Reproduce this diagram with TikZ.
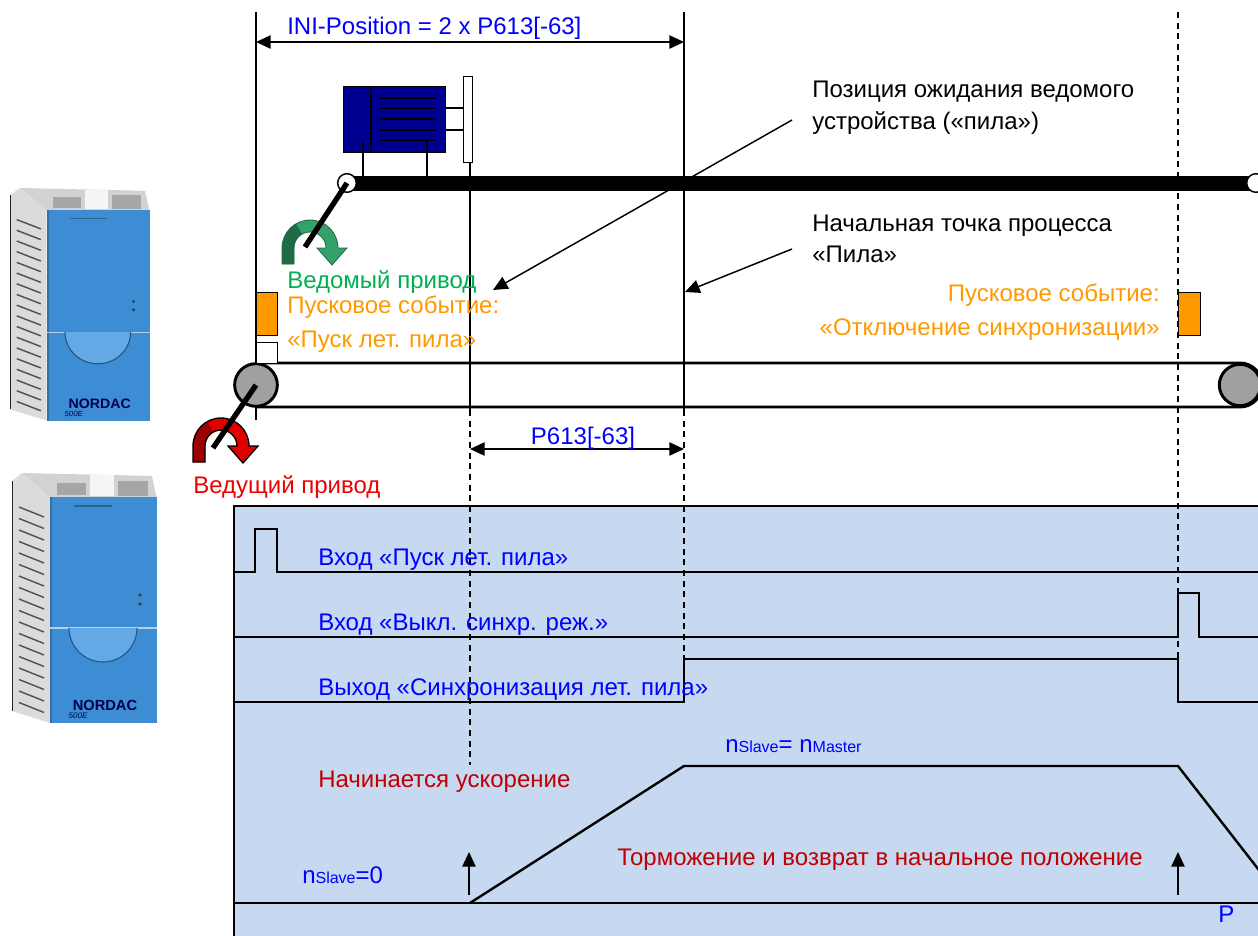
\documentclass[tikz,border=0pt]{standalone}
\usepackage{fontspec}
\setmainfont{Liberation Sans}
\usetikzlibrary{arrows.meta}
\definecolor{txtblue}{HTML}{0000FF}
\definecolor{txtgreen}{HTML}{00B050}
\definecolor{txtorange}{HTML}{FF9900}
\definecolor{txtred}{HTML}{EE0000}
\definecolor{darkred}{HTML}{C00000}
\definecolor{panelblue}{HTML}{C6D9F1}
\definecolor{motorblue}{HTML}{000090}
\definecolor{frontblue}{HTML}{3C8DD3}
\definecolor{cutblue}{HTML}{62A9E6}
\definecolor{rollgray}{HTML}{A0A0A0}
\definecolor{eventorange}{HTML}{FF9900}
\definecolor{arrgreen}{HTML}{34A06A}
\definecolor{arrgreendk}{HTML}{1F6B45}
\definecolor{arrred}{HTML}{E00000}
\newcommand\rotarrowpath{(-28,16) -- (-28,0) arc[start angle=180,end angle=360,radius=28] -- (37,0) -- (22,17) -- (7,0) -- (16,0) arc[start angle=360,end angle=180,radius=16] -- (-16,16) -- cycle}
\newcommand\nordacbody{%
  \fill[gray!35] (10,0) -- (140,3) -- (145,27) -- (38,24) -- cycle;
  \fill[gray!70] (45,10) rectangle (74,22);
  \fill[white!92!gray] (78,2) rectangle (102,23);
  \fill[gray!70] (106,8) rectangle (136,23);
  \fill[gray!28] (0,8) -- (10,0) -- (38,24) -- (38,250) -- (0,238) -- cycle;
  \draw[gray!30!black] (0,8) -- (0,238);
  \foreach \k in {0,...,17} \draw[gray!65!black, line width=1.1pt] (7,34+11.5*\k) -- (32,44+11.5*\k);
  \fill[frontblue] (38,24) rectangle (145,250);
  \fill[frontblue!80!black] (38,24) rectangle (40,250);
  \draw[white!60!frontblue, line width=0.8pt] (38,155) -- (145,155);
  \fill[cutblue] (57,155) arc[start angle=180,end angle=0,radius=34] -- cycle;
  \draw[frontblue!60!black, line width=0.8pt] (57,155) arc[start angle=180,end angle=0,radius=34];
  \draw[frontblue!70!black, line width=1pt] (62,33) -- (100,33);
  \fill[black!75] (128,122) circle[radius=1.8];
  \fill[black!75] (128,131) circle[radius=1.8];
}
\begin{document}
\begin{tikzpicture}[x=0.75pt,y=-0.75pt,
  lbl/.style={font=\fontsize{18}{20}\selectfont, inner sep=0pt, anchor=base west},
  lblr/.style={font=\fontsize{18}{20}\selectfont, inner sep=0pt, anchor=base east},
  thinl/.style={line width=1.1pt},
  dashl/.style={line width=1.1pt, dash pattern=on 4.5pt off 3.5pt},
  dimarrow/.style={line width=1.1pt, {Triangle[length=11pt,width=10pt]}-{Triangle[length=11pt,width=10pt]}},
  callout/.style={line width=1.1pt, -{Triangle[length=11pt,width=10pt]}},
  sig/.style={line width=1.8pt, line join=miter},
  belt/.style={line width=2.2pt},
  eventbox/.style={fill=eventorange, draw=black, line width=1.1pt}]
\useasboundingbox (0,0) rectangle (1258,936);

% ---------- frequency inverters ----------
\begin{scope}[shift={(10,188)}, xscale=0.965, yscale=0.93, transform shape]
  \nordacbody
  \node[font=\bfseries\fontsize{11}{11}\selectfont, text=black!70!blue] (nd1) at (93,232) {NORDAC};
  \node[font=\itshape\fontsize{6}{6}\selectfont, text=black!70!blue] (nd1s) at (66,243) {500E};
\end{scope}
\begin{scope}[shift={(12,473)}]
  \nordacbody
  \node[font=\bfseries\fontsize{11}{11}\selectfont, text=black!70!blue] (nd2) at (93,232) {NORDAC};
  \node[font=\itshape\fontsize{6}{6}\selectfont, text=black!70!blue] (nd2s) at (66,243) {500E};
\end{scope}

% ---------- bottom signal panel ----------
\fill[panelblue] (234,506) rectangle (1258,936);
\draw[sig] (234,936) -- (234,506) -- (1258,506);

% ---------- vertical reference lines ----------
\coordinate (vA1) at (256,12);  \coordinate (vA2) at (256,420);
\coordinate (vB1) at (684,12);  \coordinate (vB2) at (684,410); \coordinate (vB3) at (684,659);
\coordinate (vC1) at (470,162); \coordinate (vC2) at (470,410); \coordinate (vC3) at (470,765);
\coordinate (vD1) at (1178,12); \coordinate (vD2) at (1178,659);
\draw[thinl] (vA1) -- (vA2);
\draw[thinl] (vB1) -- (vB2);
\draw[dashl] (vB2) -- (vB3);
\draw[thinl] (vC1) -- (vC2);
\draw[dashl] (vC2) -- (vC3);
\draw[dashl] (vD1) -- (vD2);

% ---------- dimensions ----------
\coordinate (dA) at (256,42); \coordinate (dB) at (684,42);
\draw[dimarrow] (dA) -- (dB);
\node[lbl, text=txtblue] (ini) at (287,34) {INI-Position = 2 x P613[-63]};
\coordinate (dC) at (470,449); \coordinate (dD) at (684,449);
\draw[dimarrow] (dC) -- (dD);
\node[font=\fontsize{18}{20}\selectfont, inner sep=0pt, anchor=base, text=txtblue] (p613) at (583,444) {P613[-63]};

% ---------- slave drive (motor + shaft) ----------
\fill (347,176) rectangle (1258,191);
\draw[thinl] (445,108) -- (463,108);
\draw[thinl] (445,130) -- (463,130);
\node[draw=black, fill=motorblue, line width=0.8pt, minimum width=76.5pt, minimum height=49.5pt, inner sep=0pt, anchor=north west] (motor) at (343,86) {};
\draw[thinl] (371,86) -- (371,152);
\draw[thinl] (363,141) -- (363,177);
\draw[thinl] (427,140) -- (427,177);
\foreach \yy in {98,108,119,130,140} \draw[line width=2.1pt] (380,\yy) -- (435,\yy);
\node[draw=black, fill=white, line width=0.8pt, minimum width=6.75pt, minimum height=64.5pt, inner sep=0pt, anchor=north west] (flange) at (463,76) {};
\begin{scope}[shift={(310,248)}]
  \fill[arrgreen] \rotarrowpath;
  \fill[arrgreendk] (-28,16) -- (-28,0) arc[start angle=180,end angle=240,radius=28] -- (-8,-14) arc[start angle=240,end angle=180,radius=16] -- (-16,16) -- cycle;
  \draw[arrgreendk, line width=0.6pt] \rotarrowpath;
\end{scope}
\node[circle, draw=black, fill=white, line width=1.1pt, minimum size=14pt, inner sep=0pt] (sc1) at (347,183) {};
\node[circle, draw=black, fill=white, line width=1.1pt, minimum size=14pt, inner sep=0pt] (sc2) at (1256,183) {};
\coordinate (gs) at (305,247);
\draw[line width=4pt] (sc1.center) -- (gs);

% ---------- conveyor (master) ----------
\draw[belt] (256,363) -- (1240,363) arc[start angle=270,end angle=450,radius=22] -- (256,407);
\node[circle, draw=black, fill=rollgray, line width=2.2pt, minimum size=31pt, inner sep=0pt] (rollR) at (1240,385) {};
\begin{scope}[shift={(221,446)}]
  \fill[arrred] \rotarrowpath;
  \fill[arrred!70!black] (-28,16) -- (-28,0) arc[start angle=180,end angle=240,radius=28] -- (-8,-14) arc[start angle=240,end angle=180,radius=16] -- (-16,16) -- cycle;
  \draw[black, line width=1pt] \rotarrowpath;
\end{scope}
\node[circle, draw=black, fill=rollgray, line width=2.2pt, minimum size=32pt, inner sep=0pt] (rollL) at (256,385) {};
\coordinate (rs) at (213,448);
\draw[line width=4pt] (rollL.center) -- (rs);

% ---------- trigger events ----------
\node[eventbox, minimum width=15.75pt, minimum height=32pt, inner sep=0pt, anchor=north west] (evL) at (256,292) {};
\node[draw=black, fill=white, line width=1.1pt, minimum width=15.75pt, minimum height=15.75pt, inner sep=0pt, anchor=north west] (evLb) at (256,342) {};
\node[eventbox, minimum width=16.5pt, minimum height=32pt, inner sep=0pt, anchor=north west] (evR) at (1178,292) {};

% ---------- labels upper part ----------
\node[lbl, text=txtgreen] (slave) at (287,288) {Ведомый привод};
\node[lbl, text=txtorange] (trigL1) at (287,313) {Пусковое событие:};
\node[lbl, text=txtorange] (trigL2) at (287,347) {«Пуск лет. пила»};
\node[lblr, text=txtorange] (trigR1) at (1160,301) {Пусковое событие:};
\node[lblr, text=txtorange] (trigR2) at (1160,335) {«Отключение синхронизации»};
\node[lbl] (wait1) at (812,97) {Позиция ожидания ведомого};
\node[lbl] (wait2) at (812,129) {устройства («пила»)};
\node[lbl] (start1) at (812,231) {Начальная точка процесса};
\node[lbl] (start2) at (812,262) {«Пила»};
\node[lbl, text=txtred] (master) at (193,493) {Ведущий привод};
\coordinate (cw0) at (792,120); \coordinate (cw1) at (493,290);
\draw[callout] (cw0) -- (cw1);
\coordinate (cs0) at (792,249); \coordinate (cs1) at (685,292);
\draw[callout] (cs0) -- (cs1);

% ---------- signals ----------
\draw[sig] (234,572) -- (255,572) -- (255,529) -- (277,529) -- (277,572) -- (1258,572);
\draw[sig] (234,637) -- (1178,637) -- (1178,593) -- (1199,593) -- (1199,637) -- (1258,637);
\draw[sig] (234,702) -- (684,702) -- (684,659) -- (1178,659) -- (1178,702) -- (1258,702);
\draw[sig] (234,903) -- (1258,903);
\draw[sig] (470,903) -- (684,766) -- (1178,766) -- (1262,874);
\node[lbl, text=txtblue] (in1) at (318,565) {Вход «Пуск лет. пила»};
\node[lbl, text=txtblue] (in2) at (318,630) {Вход «Выкл. синхр. реж.»};
\node[lbl, text=txtblue] (out1) at (318,695) {Выход «Синхронизация лет. пила»};
\node[lbl, text=darkred] (acc) at (318,787) {Начинается ускорение};
\node[lbl, text=darkred] (dec) at (617,865) {Торможение и возврат в начальное положение};
\node[lbl, text=txtblue] (nsync) at (725,752) {n{\fontsize{12}{12}\selectfont Slave}= n{\fontsize{12}{12}\selectfont Master}};
\node[lbl, text=txtblue] (nzero) at (302,883) {n{\fontsize{12}{12}\selectfont Slave}=0};
\node[lbl, text=txtblue] (pp) at (1218,922) {P};
\coordinate (ua0) at (469,895); \coordinate (ua1) at (469,852);
\draw[callout] (ua0) -- (ua1);
\coordinate (ub0) at (1178,895); \coordinate (ub1) at (1178,852);
\draw[callout] (ub0) -- (ub1);
\end{tikzpicture}
\end{document}
